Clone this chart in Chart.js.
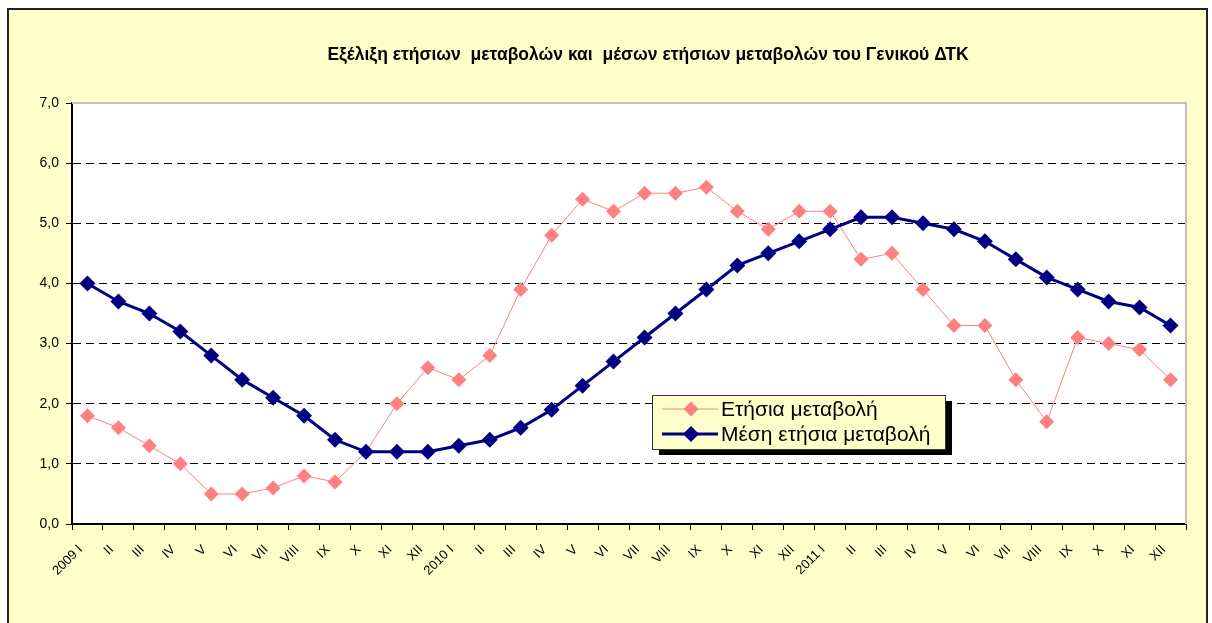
<!DOCTYPE html>
<html>
<head>
<meta charset="utf-8">
<script src="https://cdn.jsdelivr.net/npm/chart.js@4"></script>
<style>
  html, body { margin: 0; padding: 0; background: #fff; }
</style>
</head>
<body>
<canvas id="chart" width="1212" height="623"></canvas>
<script>
const titleText = "Εξέλιξη ετήσιων  μεταβολών και  μέσων ετήσιων μεταβολών του Γενικού ΔΤΚ"

const categories = [
  "2009 I", "II", "III", "IV", "V", "VI", "VII", "VIII", "IX", "X", "XI", "XII",
  "2010 I", "II", "III", "IV", "V", "VI", "VII", "VIII", "IX", "X", "XI", "XII",
  "2011 I", "II", "III", "IV", "V", "VI", "VII", "VIII", "IX", "X", "XI", "XII"
]

const annualChange = [
  1.8, 1.6, 1.3, 1.0, 0.5, 0.5, 0.6, 0.8, 0.7, 1.2, 2.0, 2.6,
  2.4, 2.8, 3.9, 4.8, 5.4, 5.2, 5.5, 5.5, 5.6, 5.2, 4.9, 5.2,
  5.2, 4.4, 4.5, 3.9, 3.3, 3.3, 2.4, 1.7, 3.1, 3.0, 2.9, 2.4
]

const meanAnnualChange = [
  4.0, 3.7, 3.5, 3.2, 2.8, 2.4, 2.1, 1.8, 1.4, 1.2, 1.2, 1.2,
  1.3, 1.4, 1.6, 1.9, 2.3, 2.7, 3.1, 3.5, 3.9, 4.3, 4.5, 4.7,
  4.9, 5.1, 5.1, 5.0, 4.9, 4.7, 4.4, 4.1, 3.9, 3.7, 3.6, 3.3
]

const seriesNames = ["Ετήσια μεταβολή", "Μέση ετήσια μεταβολή"]

const font = "'Liberation Sans', Arial, sans-serif"

// yellow frame, white plot area, title and legend box
const frame = {
  id: "frame",
  beforeDraw(chart) {
    const { ctx, chartArea: a } = chart
    ctx.save()
    ctx.fillStyle = "#fff"
    ctx.fillRect(0, 0, chart.width, chart.height)
    ctx.fillStyle = "#ffffcc"
    ctx.fillRect(8, 9, 1199, 640)
    ctx.strokeStyle = "#222"
    ctx.lineWidth = 2
    ctx.strokeRect(8, 9, 1199, 640)
    ctx.fillStyle = "#fff"
    ctx.fillRect(a.left, a.top, a.right - a.left, a.bottom - a.top)
    ctx.restore()
  },
  beforeDatasetsDraw(chart) {
    const { ctx, chartArea: a } = chart
    ctx.save()
    ctx.strokeStyle = "#c0c0c0"
    ctx.lineWidth = 2
    ctx.beginPath()
    ctx.moveTo(a.left, a.top)
    ctx.lineTo(a.right, a.top)
    ctx.lineTo(a.right, a.bottom)
    ctx.stroke()
    ctx.restore()
  },
  afterDraw(chart) {
    const { ctx } = chart
    ctx.save()
    ctx.fillStyle = "#000"
    ctx.font = "bold 17.5px " + font
    ctx.textAlign = "center"
    ctx.textBaseline = "middle"
    ctx.fillText(titleText, 648, 55)

    const x = 652, y = 395, w = 293, h = 54
    ctx.fillStyle = "#000"
    ctx.fillRect(x + 7, y + 6, w, h)
    ctx.fillStyle = "#ffffcc"
    ctx.fillRect(x, y, w, h)
    ctx.strokeStyle = "#333"
    ctx.lineWidth = 1
    ctx.strokeRect(x + 0.5, y + 0.5, w, h)

    ctx.font = "21px " + font
    ctx.textAlign = "left"
    chart.data.datasets.forEach((ds, i) => {
      const ly = y + 14 + i * 25
      ctx.strokeStyle = ds.borderColor
      ctx.lineWidth = ds.borderWidth
      ctx.beginPath()
      ctx.moveTo(x + 10, ly)
      ctx.lineTo(x + 66, ly)
      ctx.stroke()
      ctx.fillStyle = ds.pointBackgroundColor
      const r = ds.pointRadius
      ctx.beginPath()
      ctx.moveTo(x + 39, ly - r)
      ctx.lineTo(x + 39 + r, ly)
      ctx.lineTo(x + 39, ly + r)
      ctx.lineTo(x + 39 - r, ly)
      ctx.closePath()
      ctx.fill()
      ctx.fillStyle = "#000"
      ctx.fillText(ds.label, x + 69, ly + 1)
    })
    ctx.restore()
  }
}

new Chart(document.getElementById("chart"), {
  type: "line",
  data: {
    labels: categories,
    datasets: [
      {
        label: seriesNames[0],
        data: annualChange,
        borderColor: "#ff8080",
        borderWidth: 1,
        pointStyle: "rectRot",
        pointRadius: 7.5,
        pointBackgroundColor: "#ff8080",
        pointBorderColor: "#ff8080",
        pointBorderWidth: 0,
        tension: 0,
        order: 2
      },
      {
        label: seriesNames[1],
        data: meanAnnualChange,
        borderColor: "#000080",
        borderWidth: 3,
        pointStyle: "rectRot",
        pointRadius: 8,
        pointBackgroundColor: "#000080",
        pointBorderColor: "#000080",
        pointBorderWidth: 0,
        tension: 0,
        order: 1
      }
    ]
  },
  options: {
    responsive: false,
    animation: false,
    layout: { padding: { top: 103, right: 26, left: 0, bottom: 0 } },
    plugins: {
      legend: { display: false },
      title: { display: false },
      tooltip: { enabled: false }
    },
    scales: {
      x: {
        offset: true,
        grid: {
          offset: true,
          drawOnChartArea: false,
          tickLength: 6,
          tickColor: "#000",
          tickWidth: 1
        },
        border: { color: "#000", width: 2 },
        ticks: {
          autoSkip: false,
          minRotation: 45,
          maxRotation: 45,
          padding: 12,
          labelOffset: -7,
          color: "#000",
          font: { family: font, size: 13 }
        },
        afterFit(scale) { scale.height = 99 }
      },
      y: {
        min: 0,
        max: 7,
        grid: {
          color: ctx => (ctx.tick && (ctx.tick.value === 0 || ctx.tick.value === 7)) ? "rgba(0,0,0,0)" : "#000",
          lineWidth: 1,
          tickLength: 6,
          tickColor: "#000",
          tickBorderDash: []
        },
        border: { color: "#000", width: 2, dash: [8, 5] },
        ticks: {
          stepSize: 1,
          padding: 7,
          color: "#000",
          font: { family: font, size: 14 },
          callback: v => v.toFixed(1).replace(".", ",")
        },
        afterFit(scale) { scale.width = 72 }
      }
    }
  },
  plugins: [frame]
})
</script>
</body>
</html>
